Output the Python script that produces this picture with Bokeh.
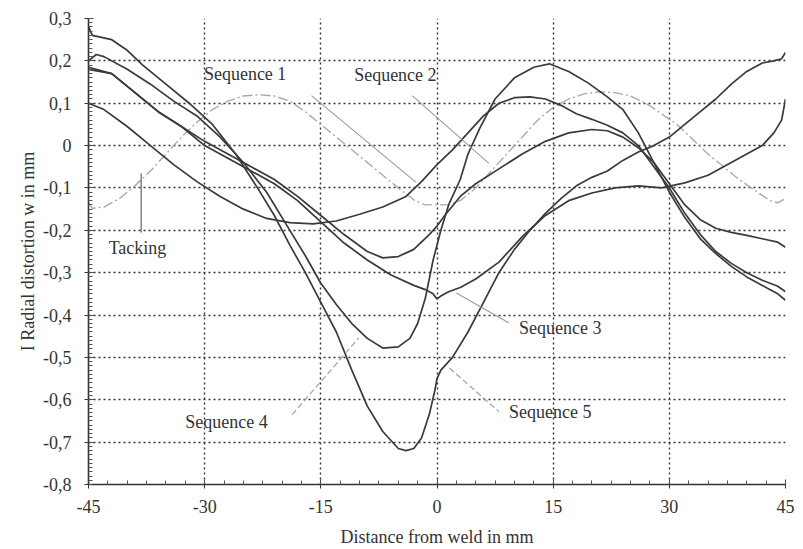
from bokeh.plotting import figure
from bokeh.models import FixedTicker, Range1d, Label
from bokeh.embed import file_html
from bokeh.resources import INLINE

# ---------------- data ----------------
x_ticks = [-45, -30, -15, 0, 15, 30, 45]
x_tick_labels = ["-45", "-30", "-15", "0", "15", "30", "45"]
y_ticks = [0.3, 0.2, 0.1, 0.0, -0.1, -0.2, -0.3, -0.4, -0.5, -0.6, -0.7, -0.8]
y_tick_labels = ["0,3", "0,2", "0,1", "0", "-0,1", "-0,2", "-0,3", "-0,4",
                 "-0,5", "-0,6", "-0,7", "-0,8"]

tack_x = [-45, -44.5, -43, -41, -39, -37, -35, -33, -31, -29, -27, -25, -23, -21,
          -19, -17, -15, -13, -11, -9, -7, -5, -3, -1.5, 0, 1.5, 3, 5, 7, 9, 11,
          13, 15, 17, 19, 21, 23, 25, 27, 29, 31, 33, 35, 37, 39, 41, 43, 44, 45]
tack_y = [-0.135, -0.148, -0.145, -0.125, -0.095, -0.06, -0.02, 0.02, 0.055, 0.085,
          0.105, 0.117, 0.12, 0.117, 0.105, 0.08, 0.05, 0.02, -0.01, -0.04, -0.07,
          -0.1, -0.128, -0.14, -0.14, -0.14, -0.13, -0.1, -0.06, -0.02, 0.02, 0.06,
          0.09, 0.11, 0.122, 0.127, 0.125, 0.117, 0.1, 0.075, 0.05, 0.015, -0.02,
          -0.05, -0.08, -0.105, -0.13, -0.135, -0.125]

seq1_x = [-45, -43, -40, -37, -34, -31, -28, -25, -22, -19, -16, -13, -10, -7, -4,
          -2, 0, 2, 4, 6, 8, 10, 12, 14, 16, 18, 20, 22, 24, 26, 28, 30, 32, 34, 36,
          38, 40, 42, 44, 45]
seq1_y = [0.10, 0.085, 0.045, 0.0, -0.045, -0.085, -0.12, -0.15, -0.172, -0.182,
          -0.185, -0.178, -0.162, -0.145, -0.12, -0.085, -0.045, -0.01, 0.03, 0.07,
          0.1, 0.113, 0.115, 0.11, 0.095, 0.075, 0.062, 0.048, 0.03, 0.0, -0.05,
          -0.1, -0.16, -0.21, -0.25, -0.278, -0.3, -0.318, -0.332, -0.345]

seq2_x = [-45, -42, -39, -36, -33, -30, -27, -24, -21, -18, -15, -12, -9, -7, -5,
          -3, -1, 0, 1, 3, 5, 8, 11, 14, 17, 20, 22, 24, 26, 28, 30, 32, 34, 36, 38,
          40, 42, 44, 45]
seq2_y = [0.185, 0.17, 0.125, 0.08, 0.045, 0.01, -0.02, -0.05, -0.08, -0.12, -0.165,
          -0.21, -0.25, -0.265, -0.262, -0.245, -0.21, -0.19, -0.165, -0.12, -0.09,
          -0.055, -0.02, 0.01, 0.03, 0.038, 0.035, 0.02, -0.005, -0.04, -0.09, -0.14,
          -0.175, -0.195, -0.205, -0.212, -0.22, -0.228, -0.24]

seq3_x = [-45, -42, -39, -36, -33, -30, -27, -24, -21, -18, -15, -12, -9, -6, -3,
          -1.5, -0.5, 0, 0.5, 1.5, 3, 5, 8, 11, 14, 17, 20, 23, 26, 29, 32, 35, 38,
          40, 42, 43.5, 44.5, 45]
seq3_y = [0.18, 0.17, 0.125, 0.08, 0.045, 0.0, -0.03, -0.06, -0.09, -0.13, -0.18,
          -0.23, -0.27, -0.305, -0.33, -0.34, -0.35, -0.362, -0.355, -0.345, -0.335,
          -0.315, -0.275, -0.215, -0.165, -0.13, -0.112, -0.1, -0.095, -0.1, -0.088,
          -0.07, -0.04, -0.02, 0.0, 0.03, 0.06, 0.11]

seq4_x = [-45, -44, -43, -40, -37, -34, -31, -28, -25, -22, -19, -17, -15, -13, -11,
          -9, -7, -5, -3.5, -2.5, -1.5, -0.5, 0.5, 1.5, 3, 4, 5.5, 7.5, 10, 12.5,
          14.5, 17, 19.5, 22, 24, 26, 28, 30, 32, 34, 36, 38, 40, 42, 44, 45]
seq4_y = [0.2, 0.215, 0.21, 0.18, 0.145, 0.105, 0.07, 0.02, -0.04, -0.11, -0.2,
          -0.26, -0.325, -0.375, -0.42, -0.455, -0.478, -0.475, -0.455, -0.42, -0.36,
          -0.27, -0.2, -0.14, -0.08, -0.02, 0.04, 0.11, 0.16, 0.185, 0.193, 0.175,
          0.148, 0.115, 0.085, 0.03, -0.04, -0.11, -0.17, -0.22, -0.255, -0.285,
          -0.31, -0.33, -0.35, -0.365]

seq5_x = [-45, -44.5, -42, -40, -38, -35, -32, -29, -26, -23, -21, -19, -17, -15,
          -13, -11, -9, -7, -5, -4, -3, -2, -1, -0.3, 0, 0.5, 2, 4, 6, 8, 10, 12, 14,
          16, 18, 20, 22, 24, 26, 28, 30, 32, 34, 36, 38, 40, 42, 43.5, 44.5, 45]
seq5_y = [0.28, 0.26, 0.25, 0.225, 0.19, 0.145, 0.1, 0.05, -0.02, -0.105, -0.165,
          -0.235, -0.3, -0.37, -0.44, -0.53, -0.615, -0.675, -0.715, -0.72, -0.715,
          -0.69, -0.635, -0.58, -0.55, -0.53, -0.5, -0.44, -0.37, -0.3, -0.245, -0.2,
          -0.16, -0.125, -0.095, -0.075, -0.06, -0.035, -0.015, 0.0, 0.02, 0.05,
          0.08, 0.11, 0.145, 0.175, 0.195, 0.2, 0.205, 0.22]

series_names = ["Sequence 1", "Sequence 2", "Sequence 3", "Sequence 4", "Sequence 5"]

# ---------------- figure ----------------
FONT = "Liberation Serif"
p = figure(width=803, height=549, output_backend="svg", toolbar_location=None,
           x_range=Range1d(-45, 45), y_range=Range1d(-0.8, 0.3),
           min_border_left=88, min_border_right=18, min_border_top=18,
           min_border_bottom=64)
p.outline_line_color = None
p.background_fill_color = "white"
p.border_fill_color = "white"

x_minor = [-45 + 2.5 * i for i in range(37)]
y_minor = [round(-0.8 + 0.01 * i, 2) for i in range(111)]
p.xaxis.ticker = FixedTicker(ticks=x_ticks, minor_ticks=x_minor)
p.yaxis.ticker = FixedTicker(ticks=y_ticks, minor_ticks=y_minor)
p.xaxis.major_label_overrides = dict(zip(x_ticks, x_tick_labels))
p.yaxis.major_label_overrides = dict(zip(y_ticks, y_tick_labels))

for ax in (p.xaxis[0], p.yaxis[0]):
    ax.axis_line_color = "#333333"
    ax.axis_line_width = 1.6
    ax.major_tick_line_color = "#333333"
    ax.minor_tick_line_color = "#555555"
    ax.major_tick_in = 5
    ax.major_tick_out = 4
    ax.minor_tick_in = 4
    ax.minor_tick_out = 0
    ax.major_label_text_font = FONT
    ax.major_label_text_font_size = "18px"
    ax.major_label_text_color = "#333333"
    ax.axis_label_text_font = FONT
    ax.axis_label_text_font_size = "18px"
    ax.axis_label_text_font_style = "normal"
    ax.axis_label_text_color = "#333333"

p.xaxis.axis_label = "Distance from weld in mm"
p.yaxis.axis_label = "I Radial distortion w in mm"
p.xaxis.major_label_standoff = 11
p.xaxis.axis_label_standoff = 11
p.yaxis.major_label_standoff = 13
p.yaxis.axis_label_standoff = 2

p.xgrid.ticker = FixedTicker(ticks=x_ticks)
p.ygrid.ticker = FixedTicker(ticks=y_ticks)
for g in (p.xgrid[0], p.ygrid[0]):
    g.grid_line_color = "#333333"
    g.grid_line_dash = "2 3"
    g.grid_line_width = 1.4

# tacking (dash-dot light grey)
p.line(tack_x, tack_y, line_color="#a9a9a9", line_width=1.4, line_dash="10 3 2 3")

# sequences
for xs, ys in [(seq1_x, seq1_y), (seq2_x, seq2_y), (seq3_x, seq3_y),
               (seq4_x, seq4_y), (seq5_x, seq5_y)]:
    p.line(xs, ys, line_color="#3a3a3a", line_width=1.7)

# leader lines
p.segment(x0=[-16.2, -3.2, 2.5], y0=[0.118, 0.118, -0.348],
          x1=[-2.7, 6.7, 9.3], y1=[-0.087, -0.042, -0.419],
          line_color="#9a9a9a", line_width=1.1)
p.segment(x0=[-18.7, 1.6], y0=[-0.635, -0.525], x1=[-10.1, 8.0], y1=[-0.454, -0.628],
          line_color="#a0a0a0", line_width=1.2, line_dash="6 3")
p.segment(x0=[-38.2], y0=[-0.066], x1=[-38.2], y1=[-0.205],
          line_color="#555555", line_width=1.1)

# labels
label_pos = [(-30.1, 0.17), (-10.7, 0.167), (10.6, -0.43), (-32.5, -0.652), (9.3, -0.63)]
for name, (lx, ly) in zip(series_names, label_pos):
    p.add_layout(Label(x=lx, y=ly, text=name, text_font=FONT, text_font_size="18px",
                       text_color="#333333", text_baseline="middle"))
p.add_layout(Label(x=-42.4, y=-0.242, text="Tacking", text_font=FONT,
                   text_font_size="18px", text_color="#333333", text_baseline="middle"))

open("out.html", "w").write(file_html(p, INLINE))
